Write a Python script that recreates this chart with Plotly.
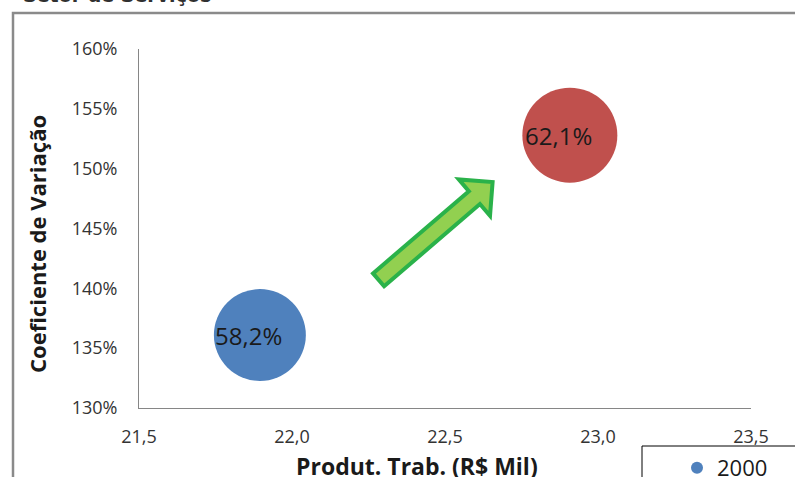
import plotly.graph_objects as go

# ---- data -------------------------------------------------------------
series_names = ["2000", "2010"]
produt_trab = [21.895, 22.908]          # R$ mil
coef_variacao = [136.1, 152.8]          # %
bubble_share = [58.2, 62.1]             # bubble size / label value (%)
bubble_colors = ["#4F81BD", "#C0504D"]

x_ticks = [21.5, 22.0, 22.5, 23.0, 23.5]
y_ticks = [130, 135, 140, 145, 150, 155, 160]
x_tick_text = [f"{v:.1f}".replace(".", ",") for v in x_ticks]
y_tick_text = [f"{v}%" for v in y_ticks]

# trend arrow, tail and tip in data units
arrow_tail = (22.278, 140.6)
arrow_tip = (22.663, 149.05)

# ---- layout geometry (pixels) -----------------------------------------
W, H = 795, 477
PX_L, PX_R, PX_T, PX_B = 139, 751, 49, 408
X_RANGE = [x_ticks[0], x_ticks[-1]]
Y_RANGE = [y_ticks[0], y_ticks[-1]]
FONT = "Open Sans"


def to_px(x, y):
    px = PX_L + (x - X_RANGE[0]) / (X_RANGE[1] - X_RANGE[0]) * (PX_R - PX_L)
    py = PX_B - (y - Y_RANGE[0]) / (Y_RANGE[1] - Y_RANGE[0]) * (PX_B - PX_T)
    return px, py


def to_data(px, py):
    x = X_RANGE[0] + (px - PX_L) / (PX_R - PX_L) * (X_RANGE[1] - X_RANGE[0])
    y = Y_RANGE[0] + (PX_B - py) / (PX_B - PX_T) * (Y_RANGE[1] - Y_RANGE[0])
    return x, y


def paper_x(px):
    return (px - PX_L) / (PX_R - PX_L)


def paper_y(py):
    return (PX_B - py) / (PX_B - PX_T)


def block_arrow_path(tail, tip, half_w=8.5, head_half_w=24, head_len=24):
    tx, ty = to_px(*tail)
    hx, hy = to_px(*tip)
    dx, dy = hx - tx, hy - ty
    length = (dx ** 2 + dy ** 2) ** 0.5
    ux, uy = dx / length, dy / length
    nx, ny = -uy, ux
    tx, ty = tx + ux * 2, ty + uy * 2
    hx, hy = hx - ux * 3, hy - uy * 3
    bx, by = hx - ux * head_len, hy - uy * head_len
    pts = [
        (tx + nx * half_w, ty + ny * half_w),
        (bx + nx * half_w, by + ny * half_w),
        (bx + nx * head_half_w, by + ny * head_half_w),
        (hx, hy),
        (bx - nx * head_half_w, by - ny * head_half_w),
        (bx - nx * half_w, by - ny * half_w),
        (tx - nx * half_w, ty - ny * half_w),
    ]
    data_pts = [to_data(px, py) for px, py in pts]
    return "M " + " L ".join(f"{x:.5f},{y:.5f}" for x, y in data_pts) + " Z"


# bubble scale: largest bubble about 95 px across
max_diam = 95
sizeref = 2.0 * max(bubble_share) / max_diam ** 2

fig = go.Figure()
for name, x, y, s, c in zip(series_names, produt_trab, coef_variacao,
                            bubble_share, bubble_colors):
    fig.add_trace(go.Scatter(
        x=[x], y=[y], mode="markers", name=name,
        marker=dict(size=[s], sizemode="area", sizeref=sizeref,
                    color=c, line=dict(width=0), opacity=1),
        hoverinfo="skip",
    ))

# value labels on bubbles
annotations = []
for x, y, s in zip(produt_trab, coef_variacao, bubble_share):
    annotations.append(dict(
        x=x, y=y, xref="x", yref="y", showarrow=False,
        xanchor="center", yanchor="middle",
        text=f"{s:.1f}%".replace(".", ","), xshift=-11,
        font=dict(family=FONT, size=24, color="#1a1a1a"),
    ))

# axis titles
annotations.append(dict(
    x=paper_x(417), y=paper_y(466), xref="paper", yref="paper",
    xanchor="center", yanchor="middle",
    showarrow=False, text="<b>Produt. Trab. (R$ Mil)</b>",
    font=dict(family=FONT, size=23, color="#1a1a1a"),
))
annotations.append(dict(
    x=paper_x(37), y=paper_y(244), xref="paper", yref="paper",
    xanchor="center", yanchor="middle",
    showarrow=False, text="<b>Coeficiente de Variação</b>", textangle=-90,
    font=dict(family=FONT, size=22, color="#1a1a1a"),
))
# chart heading above the frame
annotations.append(dict(
    x=paper_x(21), y=paper_y(8), xref="paper", yref="paper",
    xanchor="left", yanchor="bottom", showarrow=False,
    text="<b>Setor de Serviços</b>",
    font=dict(family="DejaVu Sans", size=19, color="#303030"),
))

shapes = [
    # outer frame of the chart area
    dict(type="rect", xref="paper", yref="paper",
         x0=paper_x(13), x1=paper_x(W + 40), y0=paper_y(H + 40), y1=paper_y(13),
         line=dict(color="#8a8a8a", width=2.5), fillcolor="rgba(0,0,0,0)",
         layer="below"),
    # trend arrow
    dict(type="path", xref="x", yref="y",
         path=block_arrow_path(arrow_tail, arrow_tip),
         fillcolor="#92D050", line=dict(color="#2AB24A", width=4)),
    # legend box
    dict(type="rect", xref="paper", yref="paper",
         x0=paper_x(642), x1=paper_x(W + 60), y0=paper_y(H + 40), y1=paper_y(446),
         line=dict(color="#000000", width=1), fillcolor="white"),
]

fig.update_layout(
    width=W, height=H,
    margin=dict(l=PX_L, r=W - PX_R, t=PX_T, b=H - PX_B, autoexpand=False),
    paper_bgcolor="white", plot_bgcolor="white",
    font=dict(family=FONT, size=18, color="#333333"),
    showlegend=True,
    legend=dict(
        orientation="h", x=paper_x(677), y=paper_y(447),
        xanchor="left", yanchor="top", bgcolor="rgba(0,0,0,0)",
        borderwidth=0, itemsizing="constant", entrywidth=300,
        font=dict(family=FONT, size=22, color="#1a1a1a"),
        itemclick=False, itemdoubleclick=False,
    ),
    xaxis=dict(
        range=X_RANGE, tickvals=x_ticks, ticktext=x_tick_text,
        showgrid=False, zeroline=False, showline=True,
        linecolor="#868686", linewidth=1, ticks="",
        ticklabelstandoff=12,
        tickfont=dict(family=FONT, size=18, color="#333333"),
    ),
    yaxis=dict(
        range=Y_RANGE, tickvals=y_ticks, ticktext=y_tick_text,
        showgrid=False, zeroline=False, showline=True,
        linecolor="#868686", linewidth=1, ticks="",
        ticklabelstandoff=17,
        tickfont=dict(family=FONT, size=18, color="#333333"),
    ),
    annotations=annotations,
    shapes=shapes,
)

fig.write_html("out.html")
